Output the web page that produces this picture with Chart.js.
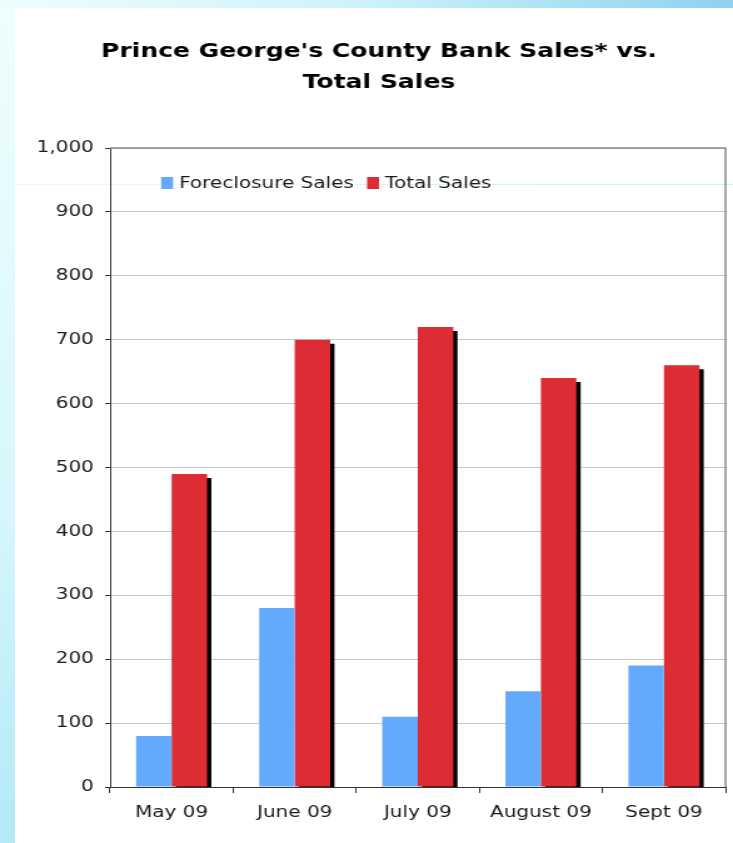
<!DOCTYPE html>
<html lang="en">
<head>
    <meta charset="UTF-8">
    <title>Prince George's County Bank Sales vs. Total Sales</title>
    <script src="https://cdn.jsdelivr.net/npm/chart.js"></script>
    <style>
        html,body{margin:0;padding:0;}
        body{width:733px;height:843px;position:relative;overflow:hidden;background:#fff;}
        #leftBand{position:absolute;left:0;top:0;width:15px;height:843px;background:linear-gradient(to bottom,#effefe,#d6f7fc 60%,#b3e9f8);}
        #topBand{position:absolute;left:0;top:0;width:733px;height:8px;background:linear-gradient(to right,#eefefe,#cdf2fb 50%,#8fd2ef);}
        #streak{position:absolute;left:15px;top:184px;width:718px;height:1px;background:linear-gradient(to right,#e6fafd,#c4f1fb);}
        #salesChart{position:absolute;left:0;top:0;}
    </style>
</head>
<body>
    <div id="leftBand"></div>
    <div id="topBand"></div>
    <div id="streak"></div>
    <!-- drawn 586 wide, shown 733 wide -->
    <canvas id="salesChart" width="586" height="843" style="width:733px;height:843px;"></canvas>
<script>
    const months=["May 09","June 09","July 09","August 09","Sept 09"]
    const foreclosureSales=[80,280,110,150,190]
    const totalSales=[490,700,720,640,660]
    const seriesNames=["Foreclosure Sales","Total Sales"]
    const seriesColors=["#63a9fe","#dd2c34"]

    const font='"DejaVu Sans", Verdana, sans-serif'

    // black drop shadow behind the red bars
    const barShadow={
        id:"barShadow",
        beforeDatasetDraw(chart,args){
            if(args.index!==1) return
            const ctx=chart.ctx
            ctx.save()
            ctx.shadowColor="#000"
            ctx.shadowOffsetX=3.4
            ctx.shadowOffsetY=4
            ctx.shadowBlur=0
        },
        afterDatasetDraw(chart,args){
            if(args.index!==1) return
            chart.ctx.restore()
        }
    }

    // gray frame on top and right of the plot
    const plotFrame={
        id:"plotFrame",
        beforeDatasetsDraw(chart){
            const {ctx,chartArea:a}=chart
            ctx.save()
            ctx.strokeStyle="#8a8a8a"
            ctx.lineWidth=1.5
            ctx.beginPath()
            ctx.moveTo(a.left,a.top)
            ctx.lineTo(a.right,a.top)
            ctx.lineTo(a.right,a.bottom)
            ctx.stroke()
            ctx.restore()
        }
    }

    // legend sits inside the plot, top left
    const innerLegend={
        id:"innerLegend",
        afterDraw(chart){
            const ctx=chart.ctx
            ctx.save()
            ctx.font="16px "+font
            ctx.textBaseline="middle"
            let x=128.8
            chart.data.datasets.forEach(ds=>{
                ctx.fillStyle=ds.backgroundColor
                ctx.fillRect(x,177,9.6,12)
                ctx.fillStyle="#1a1a1a"
                ctx.fillText(ds.label,x+14.4,183.5)
                x+=14.4+ctx.measureText(ds.label).width+10.5
            })
            ctx.restore()
        }
    }

    const ctx=document.getElementById("salesChart").getContext("2d")
    new Chart(ctx,{
        type:"bar",
        data:{
            labels:months,
            datasets:[{
                label:seriesNames[0],
                data:foreclosureSales,
                backgroundColor:seriesColors[0],
                borderWidth:0
            },{
                label:seriesNames[1],
                data:totalSales,
                backgroundColor:seriesColors[1],
                borderWidth:0,
                clip:0
            }]
        },
        options:{
            responsive:false,
            animation:false,
            devicePixelRatio:1,
            categoryPercentage:0.577,
            barPercentage:1.0,
            layout:{padding:{left:26,right:6,top:0,bottom:0}},
            plugins:{
                legend:{display:false},
                tooltip:{enabled:false},
                title:{
                    display:true,
                    text:["Prince George's County Bank Sales* vs.","Total Sales"],
                    color:"#000",
                    font:{family:font,size:20,weight:"bold",lineHeight:1.55},
                    padding:{top:36,bottom:50}
                }
            },
            scales:{
                x:{
                    grid:{display:true,drawOnChartArea:false,drawTicks:true,tickLength:6,tickColor:"#333",offset:true},
                    border:{color:"#333",width:1},
                    ticks:{color:"#1a1a1a",font:{family:font,size:16},padding:10,maxRotation:0},
                    afterFit(scale){scale.height=56}
                },
                y:{
                    min:0,
                    max:1000,
                    ticks:{stepSize:100,color:"#1a1a1a",font:{family:font,size:16},padding:9},
                    grid:{color:"#c8c8c8",lineWidth:1,tickLength:4,tickColor:"#333"},
                    border:{color:"#333",width:1},
                    afterFit(scale){scale.width=62}
                }
            }
        },
        plugins:[barShadow,plotFrame,innerLegend]
    })
</script>
</body>
</html>
